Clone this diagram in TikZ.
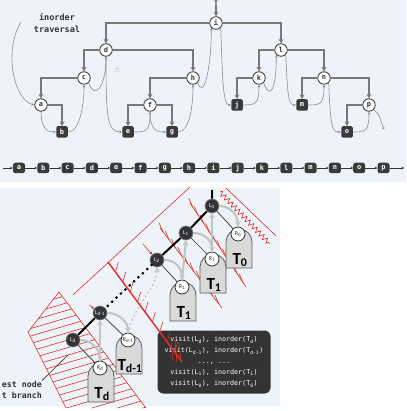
\documentclass[tikz,border=0pt]{standalone}
\usepackage{fontspec}
\setmainfont{DejaVu Sans}
\setsansfont{Carlito}
\setmonofont{DejaVu Sans Mono}
\newfontfamily\handfont{DejaVu Sans}
\usetikzlibrary{arrows.meta,decorations.pathmorphing}
\definecolor{panelblue}{RGB}{238,243,250}
\definecolor{edgegray}{RGB}{120,120,120}
\definecolor{threadgray}{RGB}{140,140,140}
\definecolor{leafgray}{RGB}{58,58,58}
\definecolor{inkgray}{RGB}{51,51,51}
\definecolor{ghostgray}{RGB}{196,196,196}
\definecolor{tombgray}{RGB}{217,217,217}
\definecolor{penred}{RGB}{222,45,38}

\begin{document}
\begin{tikzpicture}[x=1pt,y=-1pt,
  inner/.style={circle,draw=inkgray,fill=white,line width=0.8pt,minimum size=12.5pt,inner sep=0pt,text=inkgray,font=\ttfamily\bfseries\fontsize{7}{7}\selectfont},
  leaf/.style={rectangle,rounded corners=1.5pt,fill=leafgray,minimum size=11.5pt,inner sep=0pt,text=white,font=\ttfamily\bfseries\fontsize{7}{7}\selectfont},
  seqbox/.style={rectangle,rounded corners=2.5pt,fill=leafgray,minimum width=12pt,minimum height=10.5pt,inner sep=0pt,text=white,font=\ttfamily\bfseries\fontsize{7}{7}\selectfont},
  treeedge/.style={draw=edgegray,line width=1.8pt,-{Stealth[length=4.5pt,width=5pt]}},
  thread/.style={draw=threadgray,line width=0.6pt,-{Stealth[length=3pt,width=2.6pt]}},
  seqarrow/.style={draw=inkgray,line width=0.7pt,-{Stealth[length=2.6pt,width=2.6pt]}},
  lnode/.style={circle,fill=inkgray,draw=gray,line width=0.6pt,minimum size=14pt,inner sep=0pt,text=white,font=\sffamily\fontsize{6}{6}\selectfont},
  rnode/.style={circle,fill=white,draw=inkgray,line width=0.8pt,minimum size=14pt,inner sep=0pt,text=inkgray,font=\sffamily\fontsize{6}{6}\selectfont},
  tomb/.style={fill=tombgray,draw=inkgray!80,line width=0.8pt},
  tlabel/.style={text=black,font=\sffamily\bfseries\fontsize{17}{17}\selectfont},
  spine/.style={draw=black,line width=2pt},
  ghost/.style={draw=ghostgray,line width=2.2pt,-{Stealth[length=5pt,width=6pt]}},
  lrline/.style={draw=inkgray,line width=0.7pt},
  pen/.style={draw=penred,line width=0.6pt},
  codebox/.style={rectangle,rounded corners=6pt,fill=inkgray,text=white,align=center,minimum width=113pt,minimum height=63pt,inner sep=0pt,font=\ttfamily\fontsize{6.7}{11}\selectfont},
  note/.style={inner sep=0pt,text=inkgray,font=\ttfamily\bfseries\fontsize{8.3}{8.3}\selectfont}]
  \useasboundingbox (0,0) rectangle (406,411);

  % Panels
  \fill[panelblue] (0,0) rectangle (406,182);
  \fill[panelblue] (0,188) rectangle (280,406);

  % Binary tree
  \node[font=\sffamily\bfseries\fontsize{7}{7}\selectfont,text=inkgray,inner sep=0pt] (rootT) at (216,3) {T};
  \node[inner] (i) at (216,23) {i};
  \node[inner] (d) at (106,50) {d};
  \node[inner] (l) at (281,50) {l};
  \node[inner] (c) at (84,78) {c};
  \node[inner] (h) at (193,78) {h};
  \node[inner] (k) at (259,78) {k};
  \node[inner] (n) at (324,78) {n};
  \node[inner] (a) at (41,105) {a};
  \node[inner] (f) at (150,105) {f};
  \node[inner] (p) at (369,105) {p};
  \node[leaf] (j) at (237,105) {j};
  \node[leaf] (m) at (302,105) {m};
  \node[leaf] (b) at (62,132) {b};
  \node[leaf] (e) at (128,132) {e};
  \node[leaf] (g) at (172,132) {g};
  \node[leaf] (o) at (347,132) {o};

  \draw[treeedge,line width=1.2pt] (rootT) -- (i);
  \draw[treeedge] (i) -| (d);
  \draw[treeedge] (i) -| (l);
  \draw[treeedge] (d) -| (c);
  \draw[treeedge] (d) -| (h);
  \draw[treeedge] (c) -| (a);
  \draw[treeedge] (a) -| (b);
  \draw[treeedge] (h) -| (f);
  \draw[treeedge] (f) -| (e);
  \draw[treeedge] (f) -| (g);
  \draw[treeedge] (l) -| (k);
  \draw[treeedge] (l) -| (n);
  \draw[treeedge] (k) -| (j);
  \draw[treeedge] (n) -| (m);
  \draw[treeedge] (n) -| (p);
  \draw[treeedge] (p) -| (o);

  % Inorder thread
  \node[text=inkgray,align=center,inner sep=0pt,font=\ttfamily\bfseries\fontsize{8.5}{12}\selectfont] (title) at (57,23) {inorder\\traversal};
  \node[text=gray,inner sep=0pt,font=\handfont\fontsize{8}{8}\selectfont] (cursor) at (117,70) {☝};
  \coordinate (walkstart) at (21,22);
  \coordinate (walkend) at (384,129);
  \draw[thread] (walkstart) .. controls +(-18,30) and +(-20,-5) .. (a.west);
  \draw[thread] (a.south) .. controls +(0,18) and +(-8,0) .. (b.west);
  \draw[thread] (b.east) .. controls +(12,0) and +(0,20) .. (c.south);
  \draw[thread] (c.south east) .. controls +(6,18) and +(0,30) .. (d.south);
  \draw[thread] (d.south) .. controls +(0,60) and +(-15,0) .. (e.west);
  \draw[thread] (e.east) .. controls +(12,0) and +(0,20) .. (f.south);
  \draw[thread] (f.south) .. controls +(0,20) and +(-8,0) .. (g.west);
  \draw[thread] (g.east) .. controls +(12,0) and +(0,20) .. (h.south);
  \draw[thread] (h.south east) .. controls +(6,18) and +(0,40) .. (i.south west);
  \draw[thread] (i.south east) .. controls +(2,55) and +(-8,0) .. (j.west);
  \draw[thread] (j.east) .. controls +(12,0) and +(0,20) .. (k.south);
  \draw[thread] (k.south east) .. controls +(6,18) and +(0,35) .. (l.south west);
  \draw[thread] (l.south east) .. controls +(2,40) and +(-8,0) .. (m.west);
  \draw[thread] (m.east) .. controls +(12,0) and +(0,20) .. (n.south);
  \draw[thread] (n.south east) .. controls +(2,50) and +(-8,0) .. (o.west);
  \draw[thread] (o.east) .. controls +(12,0) and +(0,20) .. (p.south);
  \draw[thread,-{Circle[length=2pt]}] (p.south east) .. controls +(8,6) and +(-4,-8) .. (walkend);

  % Output sequence
  \foreach \lt [count=\k] in {a,b,c,d,e,f,g,h,i,j,k,l,m,n,o,p}
    \node[seqbox] (s\k) at ({19+24.3*(\k-1)},168) {\lt};
  \foreach \k [count=\nx from 2] in {1,...,15}
    \draw[seqarrow] (s\k) -- (s\nx);
  \coordinate (seqin) at (3,168);
  \coordinate (seqout) at (404,168);
  \draw[seqarrow] (seqin) -- (s1);
  \draw[seqarrow] (s16) -- (seqout);

  % Red marks under the left spine
  \draw[pen] (190,187) -- (73,295);
  \draw[pen] (59,292) -- (28,332) -- (66,408);
  \draw[pen] (59,292) -- (146,408);
  \begin{scope}
    \clip (59,292) -- (28,332) -- (66,408) -- (146,408) -- cycle;
    \foreach \y in {300,307.5,...,460}
      \draw[pen] (0,\y) -- (160,\y-47);
  \end{scope}
  \draw[pen] (160,228) -- (222,308);
  \foreach \t in {0.05,0.15,...,0.95}
    \draw[pen] ({160+62*\t},{228+80*\t}) -- ++(-4,-9);
  \draw[pen] (190,203) -- (246,287);
  \foreach \t in {0.05,0.15,...,0.95}
    \draw[pen] ({190+56*\t},{203+84*\t}) -- ++(-4,-9);
  \draw[pen] (226,188) -- (276,236);
  \draw[pen,decorate,decoration={zigzag,segment length=5pt,amplitude=2.5pt}] (220,192) -- (270,244);

  % Right subtrees
  \foreach \nm/\x/\y/\sub in {R0/238/234/0,R1/212/259/1,R2/182/287/1,Rdm/128/340/{d-1},Rd/100/368/d}{
    \draw[tomb] (\x-12,\y+34) -- ++(0,-26) arc (180:360:13) -- ++(0,26) -- cycle;
    \node[rnode] (\nm) at (\x,\y) {R\textsubscript{\sub}};
    \node[tlabel] at (\x+2,\y+26) {T\textsubscript{\sub}};
  }

  % Left spine
  \coordinate (spinetop) at (212,190);
  \node[lnode] (L0) at (212,206) {L\textsubscript{0}};
  \node[lnode] (L1) at (186,233) {L\textsubscript{1}};
  \node[lnode] (L2) at (157,260) {L\textsubscript{2}};
  \node[lnode] (Ldm) at (100,313) {L\textsubscript{d-1}};
  \node[lnode] (Ld) at (73,340) {L\textsubscript{d}};
  \draw[spine] (spinetop) -- (L0) -- (L1) -- (L2);
  \draw[spine,line width=3pt,line cap=round,dash pattern=on 0pt off 6pt] (L2) -- (Ldm);
  \draw[spine] (Ldm) -- (Ld);
  \draw[lrline] (L0) -- (R0);
  \draw[lrline] (L1) -- (R1);
  \draw[lrline] (L2) -- (R2);
  \draw[lrline] (Ldm) -- (Rdm);
  \draw[lrline] (Ld) -- (Rd);

  % Visit order arrows
  \draw[ghost] (L0.east) .. controls +(12,0) and +(0,-10) .. (R0.north);
  \draw[ghost] (L1.east) .. controls +(12,0) and +(0,-10) .. (R1.north);
  \draw[ghost] (L2.east) .. controls +(12,0) and +(0,-10) .. (R2.north);
  \draw[ghost] (Ldm.east) .. controls +(12,0) and +(0,-10) .. (Rdm.north);
  \draw[ghost] (Ld.east) .. controls +(12,0) and +(0,-10) .. (Rd.north);
  \draw[ghost] (R1.north) -- (L0.south);
  \draw[ghost] (R2.north) -- (L1.south);
  \draw[ghost] (Rd.north) -- (Ldm.south);
  \draw[ghost,line cap=round,dash pattern=on 0pt off 4.5pt] (Rdm.north) .. controls +(5,-25) and +(0,20) .. (L2.south);

  % Code
  \node[codebox] (code) at (214,362) {visit(L\textsubscript{d}), inorder(T\textsubscript{d})\\
    visit(L\textsubscript{d-1}), inorder(T\textsubscript{d-1})\\
    ..., ...\\
    visit(L\textsubscript{1}), inorder(T\textsubscript{1})\\
    visit(L\textsubscript{0}), inorder(T\textsubscript{0})};

  % Red marks on top
  \draw[pen,line width=1.4pt] (108,262) -- (182,362);
  \foreach \t in {0.1,0.2,...,0.9}
    \draw[pen] ({108+74*\t},{262+100*\t}) -- ++(3,-10);
  \draw[pen] (171,342) -- (173,360);
  \draw[pen] (175,340) -- (177,362);
  \draw[pen] (179,343) -- (181,360);
  \draw[pen,-{Stealth[length=3pt,width=3pt]}] (143,244) -- (L2);
  \draw[pen,-{Stealth[length=3pt,width=3pt]}] (89,305) -- (Ldm);

  % Note
  \node[note,anchor=east] (note1) at (42,384) {est node};
  \node[note,anchor=east] (note2) at (42,395) {t branch};
  \coordinate (notetip) at (68,355);
  \draw[draw=inkgray,line width=0.6pt] (note1.north east) -- (notetip);
\end{tikzpicture}
\end{document}
